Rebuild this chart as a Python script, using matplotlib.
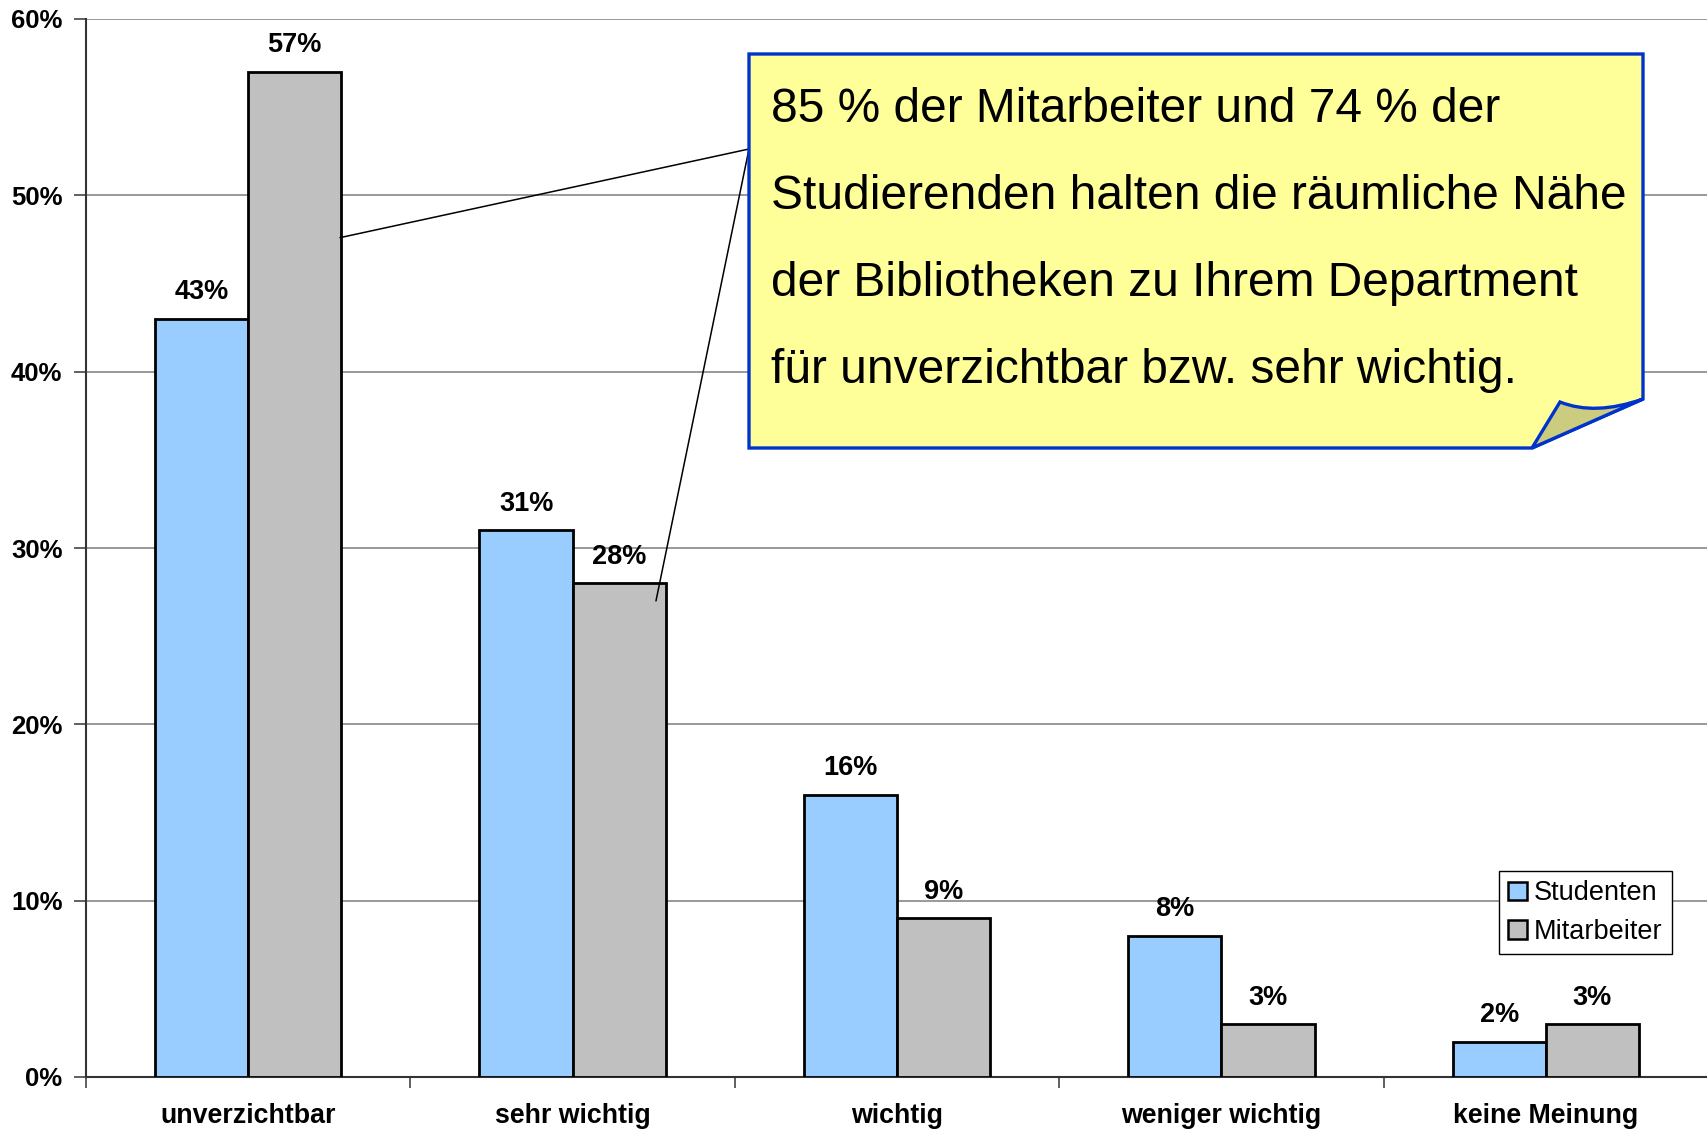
import numpy as np
import matplotlib
matplotlib.use("Agg")
import matplotlib.pyplot as plt
from matplotlib.path import Path
from matplotlib.patches import PathPatch, ConnectionPatch, Patch

plt.rcParams["font.family"] = ["Liberation Sans", "DejaVu Sans"]

categories = ["unverzichtbar", "sehr wichtig", "wichtig", "weniger wichtig", "keine Meinung"]
studenten = [43, 31, 16, 8, 2]
mitarbeiter = [57, 28, 9, 3, 3]
series_names = ["Studenten", "Mitarbeiter"]
yticks = [0, 10, 20, 30, 40, 50, 60]
callout_lines = [
    "85 % der Mitarbeiter und 74 % der",
    "Studierenden halten die räumliche Nähe",
    "der Bibliotheken zu Ihrem Department",
    "für unverzichtbar bzw. sehr wichtig.",
]

W, H = 1708, 1133
fig = plt.figure(figsize=(W / 100, H / 100), dpi=100)
ax = fig.add_axes([86 / W, 1 - 1077 / H, 1 - 86 / W, (1077 - 19) / H])

x = np.arange(len(categories))
w = 0.287
blue, grey = "#99ccff", "#c0c0c0"
b1 = ax.bar(x - w, studenten, w, align="edge", color=blue, edgecolor="black", lw=2, zorder=3)
b2 = ax.bar(x, mitarbeiter, w, align="edge", color=grey, edgecolor="black", lw=2, zorder=3)

for bars, vals in ((b1, studenten), (b2, mitarbeiter)):
    for r, v in zip(bars, vals):
        ax.annotate(f"{v}%", (r.get_x() + r.get_width() / 2, v), xytext=(0, 14),
                    textcoords="offset points", ha="center", va="baseline",
                    fontsize=19.5, fontweight="bold")

# ~326.5 px per category, plot runs off the right edge
ax.set_xlim(-0.5, 4.466)
ax.set_ylim(0, 60)
ax.set_yticks(yticks)
ax.set_yticklabels([f"{t}%" for t in yticks], fontsize=18.5, fontweight="bold")
ax.yaxis.grid(True, color="#888888", lw=1.2, zorder=0)
ax.set_axisbelow(True)

# category boundaries as major ticks, labels on minor ticks at centres
ax.set_xticks(np.arange(len(categories) + 1) - 0.5)
ax.set_xticklabels([])
ax.set_xticks(x, minor=True)
ax.set_xticklabels(categories, minor=True, fontsize=19.3, fontweight="bold")
ax.tick_params(axis="x", which="minor", length=0, pad=19)
ax.tick_params(axis="x", which="major", length=8, width=1.2, color="#444444")
ax.tick_params(axis="y", length=9, width=1.2, color="#444444", pad=8)

for s in ("top", "right"):
    ax.spines[s].set_visible(False)
for s in ("left", "bottom"):
    ax.spines[s].set_color("#333333")
    ax.spines[s].set_linewidth(1.5)

leg = ax.legend([Patch(facecolor=blue, edgecolor="black", lw=1.8),
                 Patch(facecolor=grey, edgecolor="black", lw=1.8)],
                series_names, loc="upper right",
                bbox_to_anchor=(1672 / W, 1 - 871 / H), bbox_transform=fig.transFigure,
                fontsize=19.5, fancybox=False, framealpha=1, edgecolor="black",
                handlelength=0.7, handleheight=0.7, handletextpad=0.25,
                borderpad=0.35, labelspacing=0.45, borderaxespad=0)
leg.get_frame().set_linewidth(1.0)


def fp(px, py):
    return (px / W, 1 - py / H)


# callout pointers
anchor = fp(749, 149)
for xy in [(0 + w - 0.004, 47.6), (1.257, 27.0)]:
    fig.add_artist(ConnectionPatch(xyA=anchor, coordsA=fig.transFigure, xyB=xy,
                                   coordsB=ax.transData, color="black", lw=1.1, zorder=4))

# callout box with folded corner
box = Path([fp(749, 54), fp(1643, 54), fp(1643, 399), fp(1532, 448), fp(749, 448), fp(749, 54)],
           [Path.MOVETO, Path.LINETO, Path.LINETO, Path.LINETO, Path.LINETO, Path.CLOSEPOLY])
fig.add_artist(PathPatch(box, facecolor="#ffff99", edgecolor="#0033cc", lw=2.4,
                         transform=fig.transFigure, zorder=5, joinstyle="miter"))
fold = Path([fp(1532, 448), fp(1560, 402), fp(1595, 416), fp(1643, 399), fp(1532, 448)],
            [Path.MOVETO, Path.LINETO, Path.CURVE3, Path.CURVE3, Path.CLOSEPOLY])
fig.add_artist(PathPatch(fold, facecolor="#cccc80", edgecolor="#0033cc", lw=2.4,
                         transform=fig.transFigure, zorder=6, joinstyle="miter"))

for i, line in enumerate(callout_lines):
    fig.text(771 / W, 1 - (122 + 87 * i) / H, line, fontsize=34.5, ha="left",
             va="baseline", zorder=7)

fig.savefig("out.png", dpi=100)
